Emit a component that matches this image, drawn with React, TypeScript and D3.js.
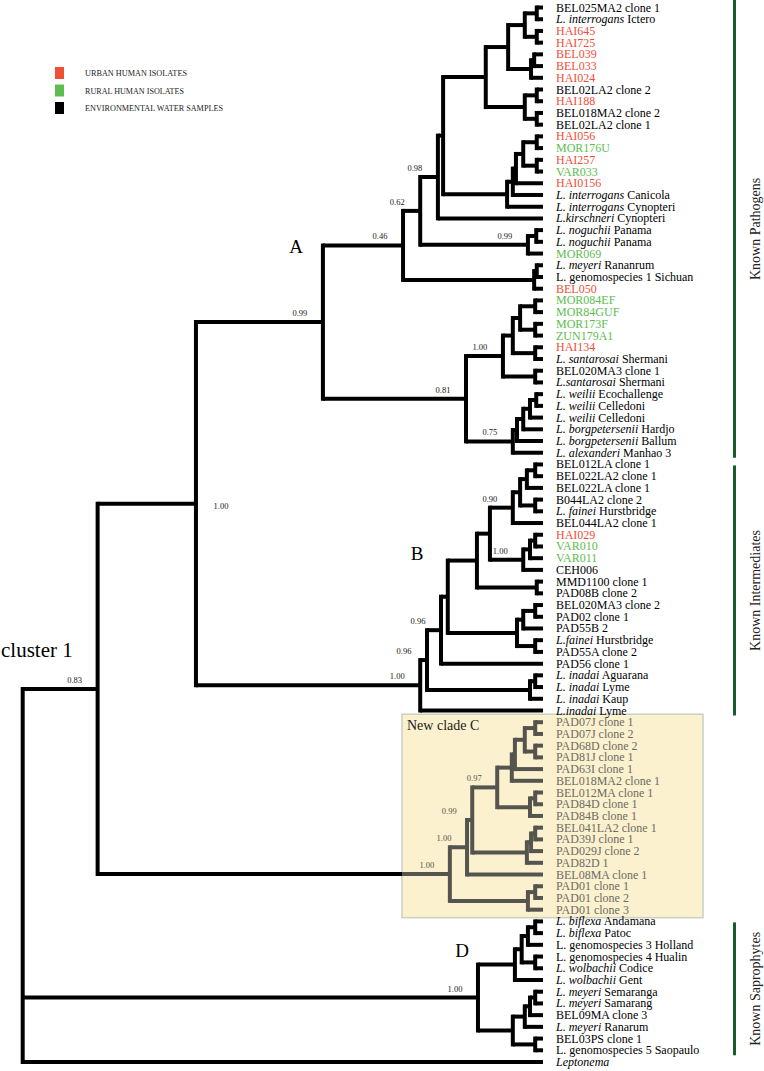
import React from "react";
import * as d3 from "d3";

// ---------- DATA ----------
const leafNames: string[] = [
  "BEL025MA2 clone 1", "*L. interrogans* Ictero", "HAI645", "HAI725", "BEL039", "BEL033", "HAI024",
  "BEL02LA2 clone 2", "HAI188", "BEL018MA2 clone 2", "BEL02LA2 clone 1", "HAI056", "MOR176U", "HAI257",
  "VAR033", "HAI0156", "*L. interrogans* Canicola", "*L. interrogans* Cynopteri", "*L.kirschneri* Cynopteri",
  "*L. noguchii* Panama", "*L. noguchii* Panama", "MOR069", "*L. meyeri* Rananrum", "L. genomospecies 1 Sichuan",
  "BEL050", "MOR084EF", "MOR84GUF", "MOR173F", "ZUN179A1", "HAI134", "*L. santarosai* Shermani",
  "BEL020MA3 clone 1", "*L.santarosai* Shermani", "*L. weilii* Ecochallenge", "*L. weilii* Celledoni",
  "*L. weilii* Celledoni", "*L. borgpetersenii* Hardjo", "*L. borgpetersenii* Ballum", "*L. alexanderi* Manhao 3",
  "BEL012LA clone 1", "BEL022LA2 clone 1", "BEL022LA clone 1", "B044LA2 clone 2", "*L. fainei* Hurstbridge",
  "BEL044LA2 clone 1", "HAI029", "VAR010", "VAR011", "CEH006", "MMD1100 clone 1", "PAD08B clone 2",
  "BEL020MA3 clone 2", "PAD02 clone 1", "PAD55B 2", "*L.fainei* Hurstbridge", "PAD55A clone 2", "PAD56 clone 1",
  "*L. inadai* Aguarana", "*L. inadai* Lyme", "*L. inadai* Kaup", "*L.inadai* Lyme",
  "PAD07J clone 1", "PAD07J clone 2", "PAD68D clone 2", "PAD81J clone 1", "PAD63I clone 1", "BEL018MA2 clone 1",
  "BEL012MA clone 1", "PAD84D clone 1", "PAD84B clone 1", "BEL041LA2 clone 1", "PAD39J clone 1",
  "PAD029J clone 2", "PAD82D 1", "BEL08MA clone 1", "PAD01 clone 1", "PAD01 clone 2", "PAD01 clone 3",
  "*L. biflexa* Andamana", "*L. biflexa* Patoc", "L. genomospecies 3 Holland", "L. genomospecies 4 Hualin",
  "*L. wolbachii* Codice", "*L. wolbachii* Gent", "*L. meyeri* Semaranga", "*L. meyeri* Samarang",
  "BEL09MA clone 3", "*L. meyeri* Ranarum", "BEL03PS clone 1", "L. genomospecies 5 Saopaulo", "*Leptonema*",
];

const urbanIsolates = ["HAI645", "HAI725", "BEL039", "BEL033", "HAI024", "HAI188", "HAI056", "HAI257", "HAI0156", "BEL050", "HAI134", "HAI029"];
const ruralIsolates = ["MOR176U", "VAR033", "MOR069", "MOR084EF", "MOR84GUF", "MOR173F", "ZUN179A1", "VAR010", "VAR011"];

// Newick-like pieces: (children)depth[support]; leaves are indices into leafNames (depth 100)
const A_interrogans = "((0,1)98.8,(2,3)98.8)96.5";
const A_hai = "((4,5)98.3,6)97.7";
const A_bel = "((7,8)98.8,(9,10)98.8)96.5";
const A_hai2 = "(((((11,12)98.8,(13,14)98.8)96.2,15)94.8,16)94.2,17)93.1";
const A_noguchii = "((19,20)98.7,21)97.1[0.99]";
const A_meyeri = "((22,23)98.8,24)98.3";
const A_santarosai = "((((25,26)98.5,(27,28)98.5)95.6,(29,30)98.5)94.2,(31,32)98.5)92.3[1.00]";
const A_weilii = "(((((33,34)98.7,35)97.5,36)96.2,37)95.0,38)94.2[0.75]";

const B_bel = "((((39,40)98.5,41)96.9,(42,43)98.5)95.6,44)94.2[0.90]";
const B_var = "(((45,46)98.5,47)97.5,48)96.2[1.00]";
const B_mmd = "(49,50)98.8";
const B_pad = "(((51,52)98.5,53)96.2,(54,55)98.5)95.0";
const B_inadai = "((57,58)98.5,59)97.5";

const C_pad07 = "((((61,62)98.5,(63,64)98.5)96.5,65)94.6,66)94.0";
const C_pad84 = "((67,68)98.5,69)97.5";
const C_pad39 = "(((70,71)98.5,72)97.7,73)96.9";
const C_pad01 = "((75,76)98.5,77)97.1";

const D_biflexa = "((((78,79)98.5,80)97.1,(81,82)98.5)95.9,83)94.6";
const D_meyeri = "((((84,85)98.5,86)97.5,87)96.5,(88,89)98.5)94.2";

const groupBars = [
  { label: "Known Pathogens", from: 0, to: 38 },
  { label: "Known Intermediates", from: 39, to: 60 },
  { label: "Known Saprophytes", from: 78, to: 89 },
];
const cladeLetters = ["A", "B", "D"];
const legendItems = [
  { label: "URBAN HUMAN ISOLATES", color: "#f04e37" },
  { label: "RURAL HUMAN ISOLATES", color: "#5dbd4f" },
  { label: "ENVIRONMENTAL WATER SAMPLES", color: "#000000" },
];

// ---------- TREE BUILD ----------
const aTop = `((((((${A_interrogans},${A_hai})93.3,${A_bel})89.0,${A_hai2})80.8,18)79.8[0.98],${A_noguchii})76.4[0.62],${A_meyeri})73.1[0.46]`;
const aBot = `(${A_santarosai},${A_weilii})85.2[0.81]`;
const cladeA = `(${aTop},${aBot})57.7[0.99]`;
const cladeB = `((((((${B_bel},${B_var})89.8,${B_mmd})87.3,${B_pad})81.7,56)80.4[0.96],${B_inadai})77.7[0.96],60)76.4[1.00]`;
const cladeC = `((((${C_pad07},${C_pad84})91.2[0.97],${C_pad39})86.4[0.99],74)85.4[1.00],${C_pad01})82.1[1.00]`;
const cladeD = `(${D_biflexa},${D_meyeri})87.5[1.00]`;
const treeString = `(((${cladeA},${cladeB})33.3[1.00],${cladeC})14.4[0.83],${cladeD},90)0`;

type TNode = { d: number; s?: string; leaf?: number; children?: TNode[] };

function parseTree(s: string): TNode {
  let i = 0;
  const readNum = () => {
    const m = /^[0-9.]+/.exec(s.slice(i));
    const v = m ? m[0] : "0";
    i += v.length;
    return v;
  };
  const node = (): TNode => {
    if (s[i] === "(") {
      i++;
      const children: TNode[] = [node()];
      while (s[i] === ",") {
        i++;
        children.push(node());
      }
      i++; // ')'
      const d = +readNum();
      let sup: string | undefined;
      if (s[i] === "[") {
        const j = s.indexOf("]", i);
        sup = s.slice(i + 1, j);
        i = j + 1;
      }
      return { d, s: sup, children };
    }
    return { d: 100, leaf: +readNum() };
  };
  return node();
}

const cLeafSet = new Set<number>();
(function collect(n: TNode) {
  if (n.leaf !== undefined) cLeafSet.add(n.leaf);
  n.children?.forEach(collect);
})(parseTree(cladeC));

// ---------- COMPONENT ----------
const FONT = "'Liberation Serif', 'Times New Roman', Times, serif";

function LeafLabel({ name, x, y, fill }: { name: string; x: number; y: number; fill: string }) {
  const parts = name.split("*");
  return (
    <text x={x} y={y} fontSize={12} fill={fill} fontFamily={FONT}>
      {parts.map((p, k) =>
        p ? (
          <tspan key={k} fontStyle={k % 2 === 1 ? "italic" : "normal"}>
            {p}
          </tspan>
        ) : null
      )}
    </text>
  );
}

export default function App() {
  const W = 764;
  const H = 1071;
  const yScale = d3.scaleLinear().domain([0, leafNames.length - 1]).range([7.5, 1062]);
  const xScale = d3.scaleLinear().domain([0, 100]).range([22.7, 543]);

  const root = d3.hierarchy<TNode>(parseTree(treeString), (d) => d.children);
  const pos = new Map<any, { x: number; y: number }>();
  root.eachAfter((n) => {
    const x = xScale(n.data.d);
    let y: number;
    if (!n.children) y = yScale(n.data.leaf as number);
    else y = (pos.get(n.children[0])!.y + pos.get(n.children[n.children.length - 1])!.y) / 2;
    pos.set(n, { x, y });
  });

  const cRoot = root.descendants().find((n) => {
    const lv = n.leaves();
    return lv.length === cLeafSet.size && lv.every((l) => cLeafSet.has(l.data.leaf as number));
  })!;
  const cNodes = new Set(cRoot.descendants());

  const boxLeft = 402;
  const boxRight = 703;
  const boxTop = yScale(61) - 8;
  const boxBottom = yScale(77) + 8;

  const black = "#000";
  const gray = "#55544e";
  const lines: React.ReactNode[] = [];
  root.descendants().forEach((n, k) => {
    const p = pos.get(n)!;
    const col = cNodes.has(n) ? gray : black;
    if (n.children) {
      const y1 = pos.get(n.children[0])!.y;
      const y2 = pos.get(n.children[n.children.length - 1])!.y;
      lines.push(
        <line key={"v" + k} x1={p.x} x2={p.x} y1={y1} y2={y2} stroke={col} strokeWidth={4} strokeLinecap="square" />
      );
    }
    if (n.parent) {
      const pp = pos.get(n.parent)!;
      if (n === cRoot) {
        lines.push(<line key={"h" + k + "a"} x1={pp.x} x2={boxLeft} y1={p.y} y2={p.y} stroke={black} strokeWidth={4} />);
        lines.push(<line key={"h" + k + "b"} x1={boxLeft} x2={p.x} y1={p.y} y2={p.y} stroke={gray} strokeWidth={4} />);
      } else {
        lines.push(<line key={"h" + k} x1={pp.x} x2={p.x} y1={p.y} y2={p.y} stroke={col} strokeWidth={4} />);
      }
    }
  });

  const supports = root
    .descendants()
    .filter((n) => n.data.s)
    .map((n, k) => {
      const p = pos.get(n)!;
      const side = n.data.d === 33.3;
      return (
        <text
          key={"s" + k}
          x={side ? p.x + 25 : p.x - 23}
          y={side ? p.y + 5 : p.y - 6}
          fontSize={8.5}
          textAnchor="middle"
          fontFamily={FONT}
          fill={cNodes.has(n) ? "#55544e" : "#222"}
        >
          {n.data.s}
        </text>
      );
    });

  const leafColor = (i: number) => {
    const name = leafNames[i];
    if (cLeafSet.has(i)) return "#6e6b62";
    if (urbanIsolates.includes(name)) return "#f04e37";
    if (ruralIsolates.includes(name)) return "#5dbd4f";
    return "#000";
  };

  const letterPos: Record<string, [number, number]> = { A: [296, 253], B: [417, 560], D: [462, 957] };

  return (
    <svg
      width={W}
      height={H}
      viewBox={`0 0 ${W} ${H}`}
      style={{ position: "absolute", left: 0, top: 0, background: "#fff" }}
      fontFamily={FONT}
    >
      <rect x={0} y={0} width={W} height={H} fill="#fff" />
      {/* legend */}
      {legendItems.map((it, k) => (
        <g key={it.label}>
          <rect x={55} y={67 + k * 17.5} width={9} height={12} fill={it.color} />
          <text x={85} y={76 + k * 17.5} fontSize={9} fill="#222" textLength={[102, 99, 138][k]} lengthAdjust="spacingAndGlyphs">
            {it.label}
          </text>
        </g>
      ))}
      {/* clade C box */}
      <rect x={boxLeft} y={boxTop} width={boxRight - boxLeft} height={boxBottom - boxTop} fill="#fbf1cf" stroke="#c8d2c4" strokeWidth={1.5} />
      <text x={407} y={730} fontSize={14} fill="#1a1a1a">New clade C</text>
      {lines}
      {supports}
      {leafNames.map((name, i) => (
        <LeafLabel key={i} name={name} x={556} y={yScale(i) + 4} fill={leafColor(i)} />
      ))}
      {cladeLetters.map((c) => (
        <text key={c} x={letterPos[c][0]} y={letterPos[c][1]} fontSize={19} textAnchor="middle" fill="#000">
          {c}
        </text>
      ))}
      <text x={1} y={657} fontSize={21} fill="#000">cluster 1</text>
      {groupBars.map((g) => {
        const y0 = g.from === 0 ? 0 : yScale(g.from) + 1;
        const y1 = yScale(g.to) + 5;
        const cy = (y0 + y1) / 2;
        return (
          <g key={g.label}>
            <rect x={733} y={y0} width={3} height={y1 - y0} fill="#1b5a2a" />
            <text x={760} y={cy} fontSize={14} textAnchor="middle" fill="#222" transform={`rotate(-90 760 ${cy})`}>
              {g.label}
            </text>
          </g>
        );
      })}
    </svg>
  );
}
